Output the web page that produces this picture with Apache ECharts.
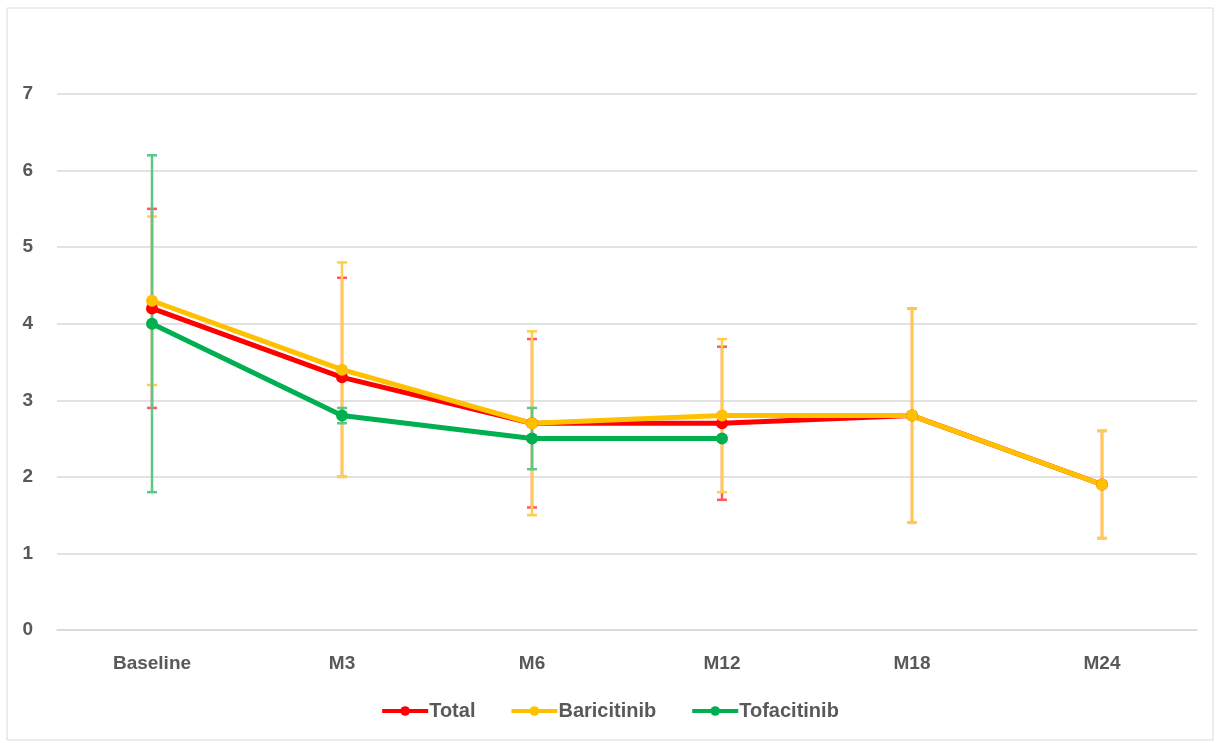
<!DOCTYPE html>
<html><head><meta charset="utf-8">
<script src="https://cdn.jsdelivr.net/npm/echarts@6/dist/echarts.min.js"></script>
<style>html,body{margin:0;padding:0;background:#fff}#c{width:1219px;height:743px}</style>
</head><body><div id="c"></div>
<script>
const categories = ['Baseline','M3','M6','M12','M18','M24'];
const yTicks = [0,1,2,3,4,5,6,7];
const totalMean = [4.2, 3.3, 2.7, 2.7, 2.8, 1.9];
const totalLow  = [2.9, 2.0, 1.6, 1.7, 1.4, 1.2];
const totalHigh = [5.5, 4.6, 3.8, 3.7, 4.2, 2.6];
const bariMean = [4.3, 3.4, 2.7, 2.8, 2.8, 1.9];
const bariLow  = [3.2, 2.0, 1.5, 1.8, 1.4, 1.2];
const bariHigh = [5.4, 4.8, 3.9, 3.8, 4.2, 2.6];
const tofaMean = [4.0, 2.8, 2.5, 2.5, null, null];
const tofaLow  = [1.8, 2.7, 2.1, 2.5, null, null];
const tofaHigh = [6.2, 2.9, 2.9, 2.5, null, null];

function errData(low, high){
  return categories.map((c,i)=> low[i]==null ? null : [i, low[i], high[i]]).filter(d=>d);
}
function errSeries(name, low, high, color, z){
  return {
    type:'custom', name: name+'_err', z: z,
    data: errData(low, high),
    renderItem: function(params, api){
      const x = api.value(0);
      const p1 = api.coord([x, api.value(1)]);
      const p2 = api.coord([x, api.value(2)]);
      const hw = 5;
      const st = {stroke: color, lineWidth: 2.5};
      return {type:'group', children:[
        {type:'line', shape:{x1:p1[0],y1:p1[1],x2:p2[0],y2:p2[1]}, style:st},
        {type:'line', shape:{x1:p1[0]-hw,y1:p1[1],x2:p1[0]+hw,y2:p1[1]}, style:st},
        {type:'line', shape:{x1:p2[0]-hw,y1:p2[1],x2:p2[0]+hw,y2:p2[1]}, style:st}
      ]};
    },
    silent:true, tooltip:{show:false}
  };
}
function lineSeries(name, data, color, z){
  return {type:'line', name, data, z, symbol:'circle', symbolSize:12,
    lineStyle:{color, width:5}, itemStyle:{color}, connectNulls:false};
}
const chart = echarts.init(document.getElementById('c'));
chart.setOption({
  backgroundColor:'#fff',
  animation:false,
  graphic:[{type:'rect', shape:{x:7,y:8,width:1206,height:732}, style:{fill:'none', stroke:'#d9d9d9', lineWidth:1}, silent:true}],
  grid:{left:57, right:22, top:94, bottom:113},
  legend:{
    bottom:17, left:'center', itemWidth:46, itemHeight:12, itemGap:34,
    data:['Total','Baricitinib','Tofacitinib'],
    lineStyle:{width:4},
    textStyle:{color:'#595959', fontSize:20, fontWeight:'bold', fontFamily:'Liberation Sans', padding:[0,0,0,-4]}
  },
  xAxis:{type:'category', data:categories, boundaryGap:true,
    axisLine:{lineStyle:{color:'#d9d9d9', width:1.5}}, axisTick:{show:false},
    axisLabel:{color:'#595959', fontSize:19, fontWeight:'bold', fontFamily:'Liberation Sans', margin:24}},
  yAxis:{type:'value', min:0, max:7, interval:1,
    axisLine:{show:false}, axisTick:{show:false},
    splitLine:{lineStyle:{color:'#d9d9d9', width:1.5}},
    axisLabel:{color:'#595959', fontSize:19, fontWeight:'bold', fontFamily:'Liberation Sans', margin:24,
      formatter: v => yTicks.includes(v) ? String(v) : ''}},
  series:[
    errSeries('Total', totalLow, totalHigh, '#FF5A5A', 1),
    errSeries('Baricitinib', bariLow, bariHigh, '#FFCC4D', 1),
    errSeries('Tofacitinib', tofaLow, tofaHigh, '#5CC886', 1),
    lineSeries('Total', totalMean, '#FF0000', 3),
    lineSeries('Baricitinib', bariMean, '#FFC000', 3),
    lineSeries('Tofacitinib', tofaMean, '#00B050', 3)
  ]
});
</script></body></html>
